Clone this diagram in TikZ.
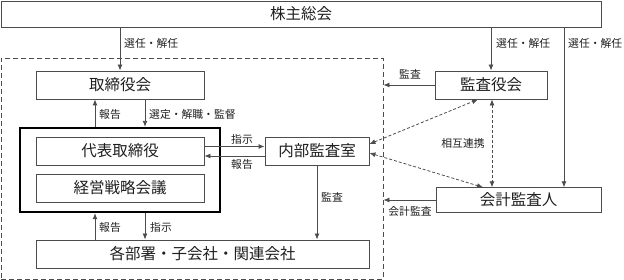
\documentclass[tikz,border=0pt]{standalone}
\usepackage{fontspec}
\setmainfont{Noto Sans CJK JP}
\usetikzlibrary{arrows.meta}
\definecolor{lc}{gray}{0.3}
\definecolor{tc}{gray}{0.12}
\begin{document}
\begin{tikzpicture}[x=1pt,y=-1pt,
 box/.style={draw=lc,line width=0.9pt,inner sep=0pt,font=\fontsize{15.5}{16}\selectfont,text=tc},
 lab/.style={font=\fontsize{10.8}{11}\selectfont,inner sep=0pt,text=tc},
 arr/.style={draw=lc,line width=0.9pt,-{Latex[length=6pt,width=5pt]}},
 darr/.style={draw=lc,line width=0.8pt,dash pattern=on 3pt off 2pt,{Latex[length=6pt,width=5pt]}-{Latex[length=6pt,width=5pt]}}]
\useasboundingbox (0,0) rectangle (624,280);
% group
\node[draw=lc,line width=0.9pt,dash pattern=on 5pt off 3pt,minimum width=382pt,minimum height=221pt,inner sep=0pt] (grp) at (192,168.5) {};
% boxes
\node[box,minimum width=600pt,minimum height=26pt] (sh) at (301,14) {株主総会};
\node[box,minimum width=168pt,minimum height=28pt] (tb) at (120,85) {取締役会};
\node[box,minimum width=112pt,minimum height=28pt] (ka) at (491,85) {監査役会};
\node[draw=black,line width=2.3pt,minimum width=200pt,minimum height=84pt,inner sep=0pt] (outer) at (120,170) {};
\node[box,minimum width=168pt,minimum height=28pt] (dh) at (120,151) {代表取締役};
\node[box,minimum width=168pt,minimum height=28pt] (kk) at (120,188) {経営戦略会議};
\node[box,minimum width=104pt,minimum height=28pt] (nb) at (317,151) {内部監査室};
\node[box,minimum width=165pt,minimum height=24.5pt] (kj) at (518.5,200) {会計監査人};
\node[box,minimum width=333pt,minimum height=28pt] (kb) at (202.5,254) {各部署・子会社・関連会社};
% helper coordinates
\coordinate (c95) at (95,0);
\coordinate (c145) at (145,0);
\coordinate (c564) at (564,0);
% arrows
\draw[arr] (sh.south -| tb.north) -- (tb.north);
\draw[arr] (sh.south -| ka.north) -- (ka.north);
\draw[arr] (sh.south -| c564) -- (kj.north -| c564);
\draw[arr] (ka.west) -- (grp.east |- ka.west);
\draw[arr] (outer.north -| c95) -- (tb.south -| c95);
\draw[arr] (tb.south -| c145) -- (outer.north -| c145);
\draw[arr] ([yshift=4.5pt]dh.east) -- ([yshift=4.5pt]dh.east -| nb.west);
\draw[arr] ([yshift=-5pt]nb.west) -- ([yshift=-5pt]nb.west -| dh.east);
\draw[arr] (kb.north -| c95) -- (outer.south -| c95);
\draw[arr] (outer.south -| c145) -- (kb.north -| c145);
\draw[arr] (nb.south) -- (nb.south |- kb.north);
\draw[arr] (kj.west) -- (grp.east |- kj.west);
\draw[darr] ([yshift=7pt]nb.east) -- ([xshift=-13pt]ka.south);
\draw[darr] ([yshift=-2pt]nb.east) -- ([xshift=-35.5pt]kj.north);
\draw[darr] ([xshift=1pt]ka.south) -- ([xshift=1pt]ka.south |- kj.north);
% labels
\node[lab,anchor=west] (l1) at (124,43) {選任・解任};
\node[lab,anchor=west] (l2) at (496,43) {選任・解任};
\node[lab,anchor=west] (l3) at (568,43) {選任・解任};
\node[lab] (l4) at (410,74) {監査};
\node[lab] (l5) at (110,114) {報告};
\node[lab,anchor=west] (l6) at (149,114) {選定・解職・監督};
\node[lab] (l7) at (242,139) {指示};
\node[lab] (l8) at (242,164) {報告};
\node[lab] (l9) at (110,227) {報告};
\node[lab,anchor=west] (l10) at (150,227) {指示};
\node[lab] (l11) at (332,197) {監査};
\node[lab] (l12) at (463,143) {相互連携};
\node[lab] (l13) at (410,211) {会計監査};
\end{tikzpicture}
\end{document}
